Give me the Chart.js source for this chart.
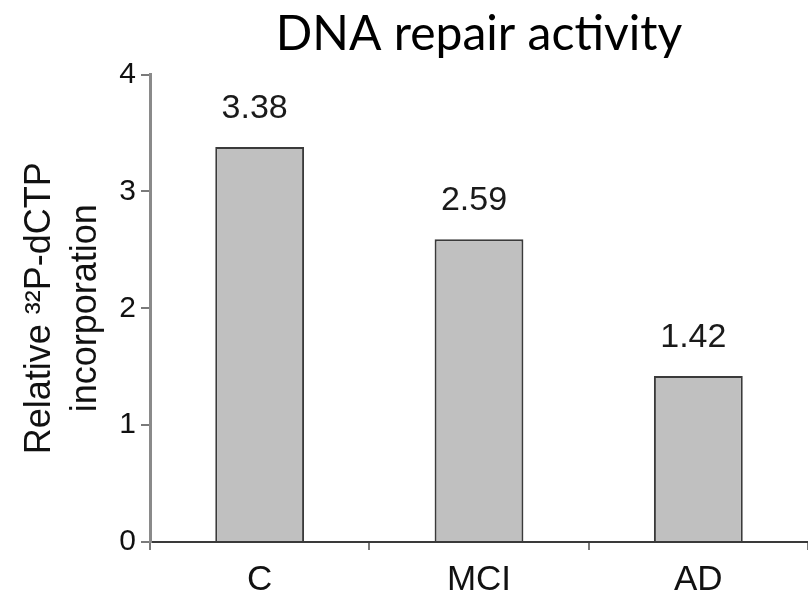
<!DOCTYPE html>
<html>
<head>
<meta charset="utf-8">
<script src="https://cdn.jsdelivr.net/npm/chart.js@4.4.1/dist/chart.umd.min.js"></script>
<style>
  html, body { margin: 0; padding: 0; background: #ffffff; }
  #wrap { width: 808px; height: 597px; position: relative; }
</style>
</head>
<body>
<div id="wrap"><canvas id="chart"></canvas></div>
<script>
// Groups and measured repair activity
const groups = ['C', 'MCI', 'AD'];
const incorporation = [3.38, 2.59, 1.42];
const yTicks = [0, 1, 2, 3, 4];

const chartTitle = 'DNA repair activity';
const yTitle = ['Relative \u00B3\u00B2P-dCTP', 'incorporation'];

const sansFont = "'Liberation Sans', Arial, Helvetica, sans-serif";

// Writes each bar's value above it
const valueLabels = {
  id: 'valueLabels',
  afterDatasetsDraw(chart) {
    const ctx = chart.ctx;
    const meta = chart.getDatasetMeta(0);
    const data = chart.data.datasets[0].data;
    ctx.save();
    ctx.font = '34px ' + sansFont;
    ctx.fillStyle = '#1a1a1a';
    ctx.textAlign = 'center';
    ctx.textBaseline = 'alphabetic';
    meta.data.forEach((bar, i) => {
      ctx.fillText(data[i].toFixed(2), bar.x - 5, bar.y - 29);
    });
    ctx.restore();
  }
};

new Chart(document.getElementById('chart'), {
  type: 'bar',
  data: {
    labels: groups,
    datasets: [{
      data: incorporation,
      backgroundColor: '#c0c0c0',
      borderColor: '#3a3a3a',
      borderWidth: 2,
      borderSkipped: 'bottom',
      barPercentage: 0.405,
      categoryPercentage: 1.0
    }]
  },
  options: {
    responsive: true,
    maintainAspectRatio: false,
    animation: false,
    layout: { padding: { left: 0, right: 0, top: 0, bottom: 0 } },
    plugins: {
      legend: { display: false },
      tooltip: { enabled: false },
      title: {
        display: true,
        text: chartTitle,
        fullSize: false,
        color: '#000000',
        font: { family: "Lato, 'Open Sans', sans-serif", size: 48, weight: 'normal', lineHeight: 1.2 },
        padding: { top: 6, bottom: 11 }
      }
    },
    scales: {
      x: {
        offset: true,
        grid: {
          offset: true,
          drawOnChartArea: false,
          drawTicks: true,
          tickLength: 8,
          color: '#7a7a7a',
          lineWidth: 2
        },
        border: { display: true, color: '#3a3a3a', width: 2 },
        ticks: {
          color: '#111111',
          font: { family: sansFont, size: 35 },
          padding: 9
        },
        afterFit(scale) { scale.height = 55; }
      },
      y: {
        min: 0,
        max: 4,
        afterBuildTicks(scale) { scale.ticks = yTicks.map(v => ({ value: v })); },
        grid: {
          drawOnChartArea: false,
          drawTicks: true,
          tickLength: 9,
          color: '#7a7a7a',
          lineWidth: 2
        },
        border: { display: true, color: '#8a8a8a', width: 3 },
        ticks: {
          color: '#111111',
          font: { family: sansFont, size: 30 },
          padding: 5
        },
        title: {
          display: true,
          text: yTitle,
          color: '#111111',
          font: { family: sansFont, size: 36, lineHeight: 1.28 },
          padding: { top: 17, bottom: 0 }
        },
        afterFit(scale) { scale.width = 150; }
      }
    }
  },
  plugins: [valueLabels]
});
</script>
</body>
</html>
